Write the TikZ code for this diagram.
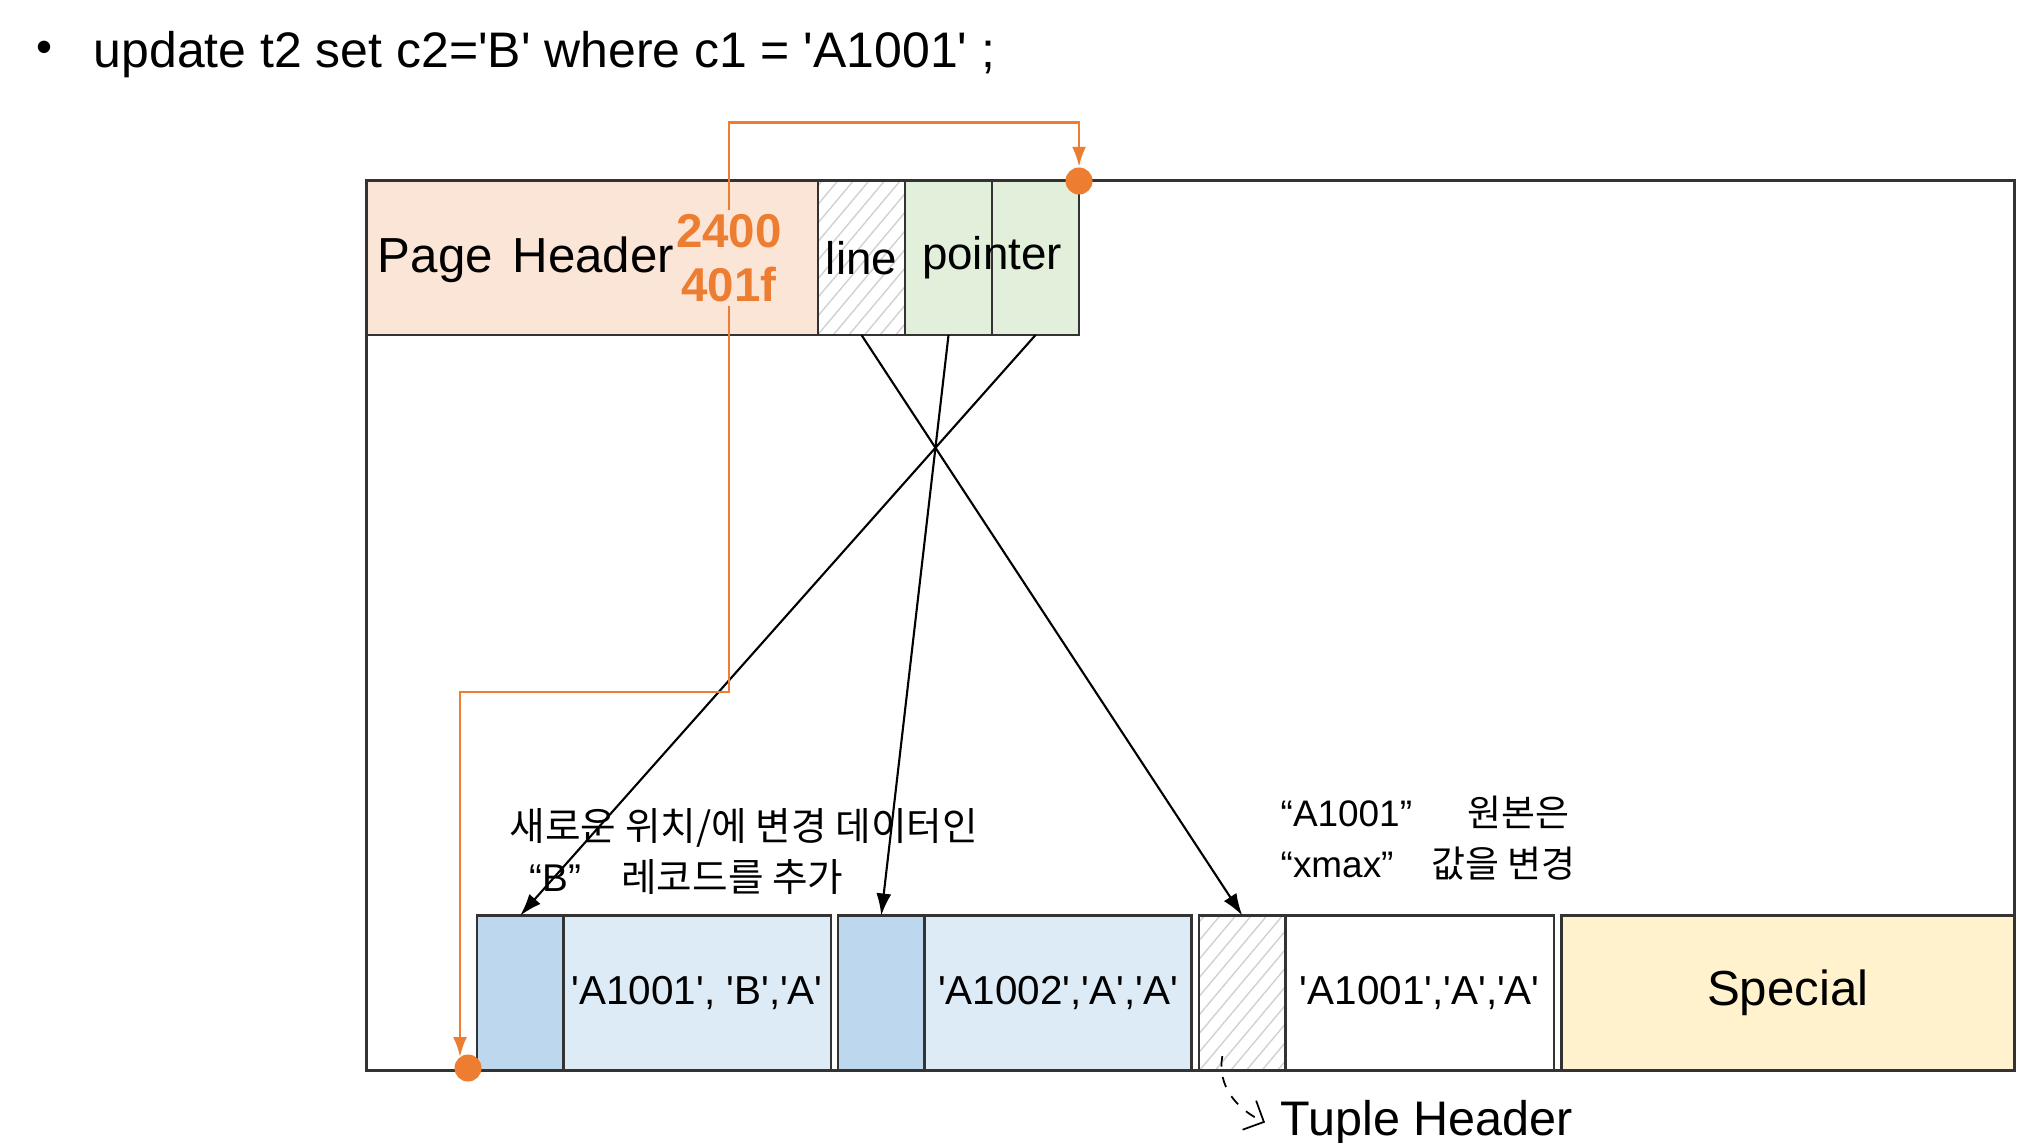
\documentclass[tikz,border=0pt]{standalone}
\usepackage{fontspec}
\setmainfont{Liberation Sans}[Ligatures=TeXOff]
\newfontfamily\kr{Noto Sans CJK KR}
\usetikzlibrary{arrows.meta,patterns.meta}

\definecolor{hdrpeach}{HTML}{FBE5D6}
\definecolor{ptrgreen}{HTML}{E2EFDA}
\definecolor{tupblue}{HTML}{BDD7EE}
\definecolor{datblue}{HTML}{DDEBF7}
\definecolor{spcyellow}{HTML}{FFF2CC}
\definecolor{pgorange}{HTML}{ED7D31}

\tikzset{
  cell/.style={draw=black!80, line width=0.75pt, minimum height=1.545cm, inner sep=0pt, outer sep=0pt},
  hatched/.style={cell, pattern={Lines[angle=50,distance=3.4pt,line width=0.4pt]}, pattern color=black!18},
  ptr/.style={-{Latex[length=2.2mm,width=1.5mm]}, line width=0.6pt},
  oarrow/.style={draw=pgorange, line width=0.75pt, -{Latex[length=2mm,width=1.4mm]}},
  odot/.style={circle, fill=pgorange, minimum size=0.27cm, inner sep=0pt}
}

\begin{document}
\begin{tikzpicture}[x=0.01cm, y=-0.01cm, font=\fontsize{13}{15}\selectfont]
            \fill[white] (0,0) rectangle (2022,1142);
            \useasboundingbox (0,0) rectangle (2022,1142);

            %title
            \node (bullet) at (45,52) {•};
            \node (title) at (93,67) [anchor=base west, inner sep=0pt, font=\fontsize{14.2}{17}\selectfont] {update t2 set c2='B' where c1 = 'A1001' ;};

            %page
            \node (page) at (1190.5,625.25) [draw=black!80, line width=0.85pt, minimum width=16.47cm, minimum height=8.895cm] {};

            %page header and line pointers
            \node (PH) at (592.5,257.75) [cell, fill=hdrpeach, minimum width=4.51cm] {};
            \node (PHtxt) at (526,260) [font=\fontsize{14}{16}\selectfont] {Page\hspace{0.06cm} Header};
            \node (nums) at (729,258) [text=pgorange, align=center, inner sep=1pt, font=\bfseries\fontsize{13.5}{15.5}\selectfont] {2400\\401f};
            \node (lp0) at (861.5,257.75) [hatched, minimum width=0.87cm] {line};
            \node (lp1) at (948.5,257.75) [cell, fill=ptrgreen, minimum width=0.87cm] {};
            \node (lp2) at (1035.5,257.75) [cell, fill=ptrgreen, minimum width=0.87cm] {};
            \node (ptxt) at (lp1.east) {pointer};

            %tuples
            \node (thA) at (520.25,992.8) [cell, fill=tupblue, minimum width=0.865cm] {};
            \node (dA) at (697.25,992.8) [cell, fill=datblue, minimum width=2.675cm, font=\fontsize{11.5}{13}\selectfont] {'A1001', 'B','A'};
            \node (thB) at (881.25,992.8) [cell, fill=tupblue, minimum width=0.865cm] {};
            \node (dB) at (1058,992.8) [cell, fill=datblue, minimum width=2.67cm, font=\fontsize{11.5}{13}\selectfont] {'A1002','A','A'};
            \node (thC) at (1242.3,992.8) [hatched, minimum width=0.866cm] {};
            \node (dC) at (1419.8,992.8) [cell, fill=white, minimum width=2.684cm, font=\fontsize{11.5}{13}\selectfont] {'A1001','A','A'};
            \node (sp) at (1787.8,992.8) [cell, fill=spcyellow, minimum width=4.524cm, font=\fontsize{14}{16}\selectfont] {Special};

            %labels
            \node (newlbl) at (509,852) [anchor=west, inner sep=0pt, align=left, font=\fontsize{11}{14.5}\selectfont] {{\kr 새로운 위치/에 변경 데이터인}\\\hspace{0.2cm}“B”\hspace{0.4cm}{\kr 레코드를 추가}};
            \node (oldlbl) at (1280,838) [anchor=west, inner sep=0pt, align=left, font=\fontsize{10.5}{14.5}\selectfont] {“A1001”\hspace{0.55cm}{\kr 원본은}\\“xmax”\hspace{0.38cm}{\kr 값을 변경}};
            \node (tuple) at (1280,1135) [anchor=base west, inner sep=0pt, font=\fontsize{13.8}{16}\selectfont] {Tuple Header};

            %orange offsets
            \node (dotT) at (1079,181) [odot] {};
            \node (dotB) at (468,1068) [odot] {};
            \coordinate (otop) at (1079,122.5);
            \coordinate (obend) at (460,692);
            \coordinate (oend) at (460,1057);

            %arrows
            \draw[ptr] (lp0.south) -- (thC.north);
            \draw[ptr] (lp1.south) -- (thB.north);
            \draw[ptr] (lp2.south) -- (thA.north);
            \draw[oarrow] (nums.north) |- (otop) -- (dotT);
            \draw[oarrow] (nums.south) |- (obend) -- (oend);
            \draw[dashed, line width=0.5pt, -{Straight Barb[length=1.6mm]}] ([shift={(-20,-14)}]thC.south) to[out=-100, in=155] ([xshift=-0.15cm]tuple.west);
\end{tikzpicture}
\end{document}
